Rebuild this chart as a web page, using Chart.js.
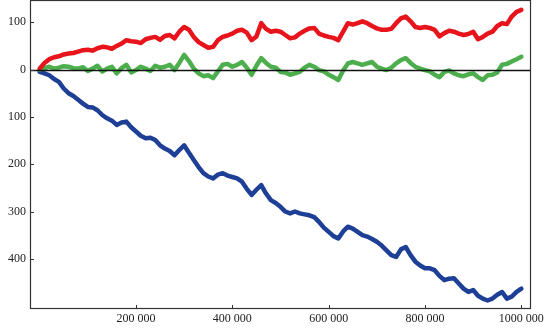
<!DOCTYPE html>
<html>
<head>
<meta charset="utf-8">
<script src="https://cdn.jsdelivr.net/npm/chart.js@4/dist/chart.umd.min.js"></script>
<style>
  html, body { margin: 0; padding: 0; background: #fff; }
  #wrap { width: 544px; height: 328px; }
</style>
</head>
<body>
<div id="wrap"><canvas id="walkChart" width="544" height="328"></canvas></div>
<script>
// steps, every 10 000
const steps = [
  0, 10000, 20000, 30000, 40000, 50000, 60000, 70000, 80000, 90000,
  100000, 110000, 120000, 130000, 140000, 150000, 160000, 170000, 180000, 190000,
  200000, 210000, 220000, 230000, 240000, 250000, 260000, 270000, 280000, 290000,
  300000, 310000, 320000, 330000, 340000, 350000, 360000, 370000, 380000, 390000,
  400000, 410000, 420000, 430000, 440000, 450000, 460000, 470000, 480000, 490000,
  500000, 510000, 520000, 530000, 540000, 550000, 560000, 570000, 580000, 590000,
  600000, 610000, 620000, 630000, 640000, 650000, 660000, 670000, 680000, 690000,
  700000, 710000, 720000, 730000, 740000, 750000, 760000, 770000, 780000, 790000,
  800000, 810000, 820000, 830000, 840000, 850000, 860000, 870000, 880000, 890000,
  900000, 910000, 920000, 930000, 940000, 950000, 960000, 970000, 980000, 990000,
  1000000
];

const redWalk = [
  2, 14, 22, 26, 28, 32, 34, 35, 38, 41,
  42, 40, 45, 48, 47, 44, 50, 55, 62, 60,
  59, 56, 64, 67, 69, 63, 71, 73, 66, 80,
  90, 84, 69, 58, 52, 46, 48, 62, 69, 72,
  76, 82, 84, 78, 62, 70, 98, 86, 80, 82,
  80, 73, 66, 68, 76, 82, 87, 88, 76, 72,
  69, 67, 62, 80, 98, 95, 98, 102, 98, 92,
  87, 84, 84, 86, 98, 108, 112, 102, 90, 88,
  90, 88, 84, 70, 77, 82, 80, 76, 73, 75,
  80, 64, 69, 76, 80, 92, 98, 96, 112, 122,
  126
];

const greenWalk = [
  0, 3, 6, 2, 4, 7, 6, 3, 2, 5,
  -3, 2, 8, -4, 2, 6, -8, 3, 10, -6,
  -1, 6, 2, -3, 8, 4, 6, 10, -1, 14,
  31, 18, 2, -8, -14, -12, -18, -4, 10, 12,
  6, 10, 16, 4, -11, 8, 24, 14, 6, 4,
  -5, -6, -11, -8, -5, 4, 10, 6, -1, -4,
  -11, -16, -22, -2, 13, 16, 13, 10, 13, 16,
  6, 2, -1, 4, 13, 20, 24, 14, 6, 2,
  -1, -4, -11, -16, -5, -2, -8, -12, -14, -10,
  -8, -16, -22, -12, -11, -6, 10, 12, 17, 22,
  27
];

const blueWalk = [
  -5, -8, -12, -20, -26, -40, -50, -56, -64, -72,
  -79, -80, -86, -96, -103, -108, -117, -112, -110, -122,
  -131, -140, -145, -144, -149, -160, -167, -172, -181, -170,
  -160, -176, -191, -206, -219, -226, -230, -222, -219, -224,
  -227, -230, -237, -252, -265, -254, -244, -262, -276, -282,
  -290, -300, -304, -300, -304, -306, -308, -312, -322, -334,
  -343, -352, -357, -342, -332, -336, -343, -350, -353, -358,
  -364, -372, -382, -392, -396, -380, -375, -392, -406, -414,
  -420, -420, -424, -436, -445, -442, -441, -452, -463, -470,
  -466, -478, -484, -488, -484, -476, -470, -484, -480, -470,
  -463
];

const xTickValues = [200000, 400000, 600000, 800000, 1000000];
const xTickLabels = ['200 000', '400 000', '600 000', '800 000', '1000 000'];
const yTickValues = [-400, -300, -200, -100, 0, 100];
const yTickLabels = ['400', '300', '200', '100', '0', '100'];

const tickFont = { family: '"Liberation Serif", "DejaVu Serif", serif', size: 12 };

function series(values) {
  return steps.map((x, i) => ({ x: x, y: values[i] }));
}

// frame, zero line and inward tick marks
const framePlugin = {
  id: 'frame',
  afterDatasetsDraw(chart) {
    const { ctx, chartArea, scales } = chart;
    const xs = scales.x, ys = scales.y;
    ctx.save();
    ctx.strokeStyle = '#111';
    ctx.lineWidth = 1.3;
    const y0 = Math.round(ys.getPixelForValue(0)) + 0.5;
    ctx.beginPath();
    ctx.moveTo(chartArea.left, y0);
    ctx.lineTo(chartArea.right, y0);
    ctx.stroke();

    ctx.strokeStyle = '#333';
    ctx.lineWidth = 1.2;
    ctx.strokeRect(chartArea.left + 0.5, chartArea.top + 0.5,
      chartArea.right - chartArea.left - 1, chartArea.bottom - chartArea.top - 1);

    ctx.lineWidth = 1;
    ctx.beginPath();
    xTickValues.forEach(v => {
      const px = Math.round(xs.getPixelForValue(v)) + 0.5;
      ctx.moveTo(px, chartArea.bottom);
      ctx.lineTo(px, chartArea.bottom - 4);
    });
    yTickValues.forEach(v => {
      const py = Math.round(ys.getPixelForValue(v)) + 0.5;
      ctx.moveTo(chartArea.left, py);
      ctx.lineTo(chartArea.left + 4, py);
    });
    ctx.stroke();
    ctx.restore();
  }
};

const ctx = document.getElementById('walkChart').getContext('2d');

new Chart(ctx, {
  type: 'line',
  data: {
    datasets: [
      { label: 'red', data: series(redWalk), borderColor: '#e8141c' },
      { label: 'green', data: series(greenWalk), borderColor: '#4cae4c' },
      { label: 'blue', data: series(blueWalk), borderColor: '#1d3f95' }
    ]
  },
  options: {
    responsive: false,
    animation: false,
    layout: { padding: { top: 0, right: 13, left: 0, bottom: 0 } },
    elements: {
      point: { radius: 0 },
      line: { borderWidth: 4.5, tension: 0, borderJoinStyle: 'round', borderCapStyle: 'round' }
    },
    plugins: {
      legend: { display: false },
      tooltip: { enabled: false }
    },
    scales: {
      x: {
        type: 'linear',
        min: -20000,
        max: 1020000,
        afterBuildTicks: (scale) => { scale.ticks = xTickValues.map(v => ({ value: v })); },
        afterFit: (scale) => {
          scale.height = 19;
          scale.paddingLeft = 0;
          scale.paddingRight = 0;
        },
        ticks: {
          autoSkip: false,
          maxRotation: 0,
          padding: 3,
          color: '#222',
          font: tickFont,
          callback: (value, index) => xTickLabels[index]
        },
        grid: { drawOnChartArea: false, drawTicks: false },
        border: { display: false }
      },
      y: {
        type: 'linear',
        min: -506,
        max: 147,
        afterBuildTicks: (scale) => { scale.ticks = yTickValues.map(v => ({ value: v })); },
        afterFit: (scale) => {
          scale.width = 30;
          scale.paddingTop = 0;
          scale.paddingBottom = 0;
        },
        ticks: {
          autoSkip: false,
          padding: 4,
          color: '#222',
          font: tickFont,
          callback: (value, index) => yTickLabels[index]
        },
        grid: { drawOnChartArea: false, drawTicks: false },
        border: { display: false }
      }
    }
  },
  plugins: [framePlugin]
});
</script>
</body>
</html>
